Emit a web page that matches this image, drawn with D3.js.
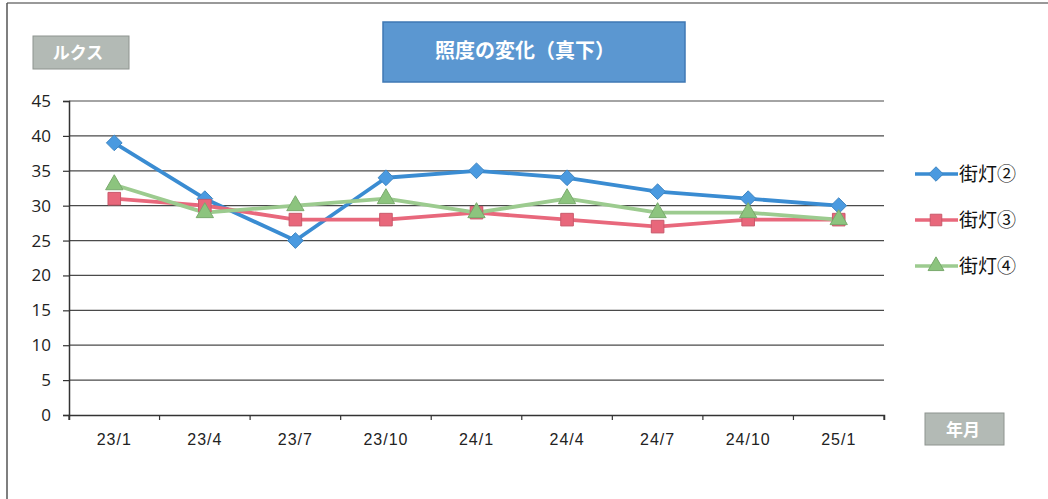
<!DOCTYPE html>
<html>
<head>
<meta charset="utf-8">
<script src="https://cdn.jsdelivr.net/npm/d3@7"></script>
<style>
body { margin: 0; background: #fff; }
svg { display: block; font-family: "Noto Sans CJK JP", "Noto Sans", sans-serif; }
</style>
</head>
<body>
<svg id="chart" width="1048" height="499"></svg>
<script>
// data
var months = ["23/1", "23/4", "23/7", "23/10", "24/1", "24/4", "24/7", "24/10", "25/1"];
var lamp2 = [39, 31, 25, 34, 35, 34, 32, 31, 30];
var lamp3 = [31, 30, 28, 28, 29, 28, 27, 28, 28];
var lamp4 = [33, 29, 30, 31, 29, 31, 29, 29, 28];
var seriesNames = ["街灯②", "街灯③", "街灯④"];
var yTicks = [0, 5, 10, 15, 20, 25, 30, 35, 40, 45];

var series = [
	{ name: seriesNames[0], values: lamp2, color: "#3a8cd2", fill: "#4a9ae0", marker: "diamond" },
	{ name: seriesNames[1], values: lamp3, color: "#e8687c", fill: "#e8677b", marker: "square" },
	{ name: seriesNames[2], values: lamp4, color: "#9ccb8f", fill: "#8cc47e", marker: "triangle" }
];

var svg = d3.select("#chart");
var plotLeft = 69, plotRight = 884, plotTop = 101, plotBottom = 415;

var x = d3.scaleBand().domain(months).range([plotLeft, plotRight]);
var y = d3.scaleLinear().domain([0, 45]).range([plotBottom, plotTop]);

// outer frame (only top and left edges show in the scan)
svg.append("line").attr("x1", 7).attr("y1", 3).attr("x2", 1048).attr("y2", 3)
	.attr("stroke", "#777").attr("stroke-width", 1.5);
svg.append("line").attr("x1", 7).attr("y1", 3).attr("x2", 7).attr("y2", 499)
	.attr("stroke", "#555").attr("stroke-width", 1.5);

// gridlines
svg.append("g").selectAll("line")
	.data(yTicks.filter(function (d) { return d > 0; }))
	.enter().append("line")
	.attr("x1", plotLeft).attr("x2", plotRight)
	.attr("y1", function (d) { return y(d); })
	.attr("y2", function (d) { return y(d); })
	.attr("stroke", "#4a4a4a").attr("stroke-width", 1.2);

// axes
var yAxis = svg.append("g")
	.attr("transform", "translate(" + plotLeft + ",0)")
	.call(d3.axisLeft(y).tickValues(yTicks).tickSize(6).tickPadding(12));
var xAxis = svg.append("g")
	.attr("transform", "translate(0," + plotBottom + ")")
	.call(d3.axisBottom(x).tickSize(5).tickPadding(14));

[yAxis, xAxis].forEach(function (ax) {
	ax.select(".domain").attr("stroke", "#333").attr("stroke-width", 1.5);
	ax.selectAll(".tick line").attr("stroke", "#333").attr("stroke-width", 1.2);
});
yAxis.selectAll("text").style("font-size", "17px").attr("fill", "#222")
	.style("font-family", "'Open Sans', 'Noto Sans', sans-serif");
xAxis.selectAll("text").style("font-size", "16px").attr("fill", "#222")
	.style("letter-spacing", "1px")
	.style("font-family", "'Liberation Sans', Arial, sans-serif");

// category boundary ticks (band edges instead of centres)
xAxis.selectAll(".tick line").remove();
xAxis.selectAll(".edge")
	.data(months.concat(["end"]))
	.enter().append("line")
	.attr("class", "edge")
	.attr("x1", function (d, i) { return plotLeft + i * x.bandwidth(); })
	.attr("x2", function (d, i) { return plotLeft + i * x.bandwidth(); })
	.attr("y1", 0).attr("y2", 5)
	.attr("stroke", "#333").attr("stroke-width", 1.2);

function markerPath(type, s) {
	if (type === "diamond") return d3.symbol().type(d3.symbolDiamond2).size(s * s * 1.1)();
	if (type === "square") return d3.symbol().type(d3.symbolSquare).size(s * s * 1.1)();
	return d3.symbol().type(d3.symbolTriangle).size(s * s * 0.9)();
}

var line = d3.line()
	.x(function (d, i) { return x(months[i]) + x.bandwidth() / 2; })
	.y(function (d) { return y(d); });

series.forEach(function (s) {
	svg.append("path")
		.datum(s.values)
		.attr("fill", "none")
		.attr("stroke", s.color)
		.attr("stroke-width", 3.8)
		.attr("stroke-linejoin", "round")
		.attr("d", line);
});

series.forEach(function (s) {
	svg.append("g").selectAll("path")
		.data(s.values)
		.enter().append("path")
		.attr("transform", function (d, i) {
			return "translate(" + (x(months[i]) + x.bandwidth() / 2) + "," + y(d) + ")";
		})
		.attr("d", markerPath(s.marker, 12))
		.attr("fill", s.fill)
		.attr("stroke", d3.color(s.fill).darker(0.4))
		.attr("stroke-width", 1);
});

// legend
var legend = svg.append("g");
series.forEach(function (s, i) {
	var ly = 174 + i * 46;
	legend.append("line").attr("x1", 915).attr("x2", 958).attr("y1", ly).attr("y2", ly)
		.attr("stroke", s.color).attr("stroke-width", 3.5);
	legend.append("path").attr("transform", "translate(936," + ly + ")")
		.attr("d", markerPath(s.marker, 11))
		.attr("fill", s.fill).attr("stroke", d3.color(s.fill).darker(0.4));
	legend.append("text").attr("x", 959).attr("y", ly + 7)
		.style("font-size", "19px").attr("fill", "#111")
		.text(s.name);
});

// title box
svg.append("rect").attr("x", 383).attr("y", 22).attr("width", 302).attr("height", 60)
	.attr("fill", "#5b97d1").attr("stroke", "#3f78b4").attr("stroke-width", 1.5);
svg.append("text").attr("x", 525).attr("y", 58).attr("text-anchor", "middle")
	.style("font-size", "20px").style("font-weight", "bold").attr("fill", "#fff")
	.text("照度の変化（真下）");

// axis label boxes
svg.append("rect").attr("x", 33).attr("y", 36).attr("width", 96).attr("height", 33)
	.attr("fill", "#b3bab5").attr("stroke", "#8e948f");
svg.append("text").attr("x", 78).attr("y", 59).attr("text-anchor", "middle")
	.style("font-size", "17px").style("font-weight", "bold").attr("fill", "#fff").text("ルクス");

svg.append("rect").attr("x", 925).attr("y", 413).attr("width", 79).attr("height", 32)
	.attr("fill", "#b3bab5").attr("stroke", "#8e948f");
svg.append("text").attr("x", 963).attr("y", 436).attr("text-anchor", "middle")
	.style("font-size", "17px").style("font-weight", "bold").attr("fill", "#fff").text("年月");
</script>
</body>
</html>
